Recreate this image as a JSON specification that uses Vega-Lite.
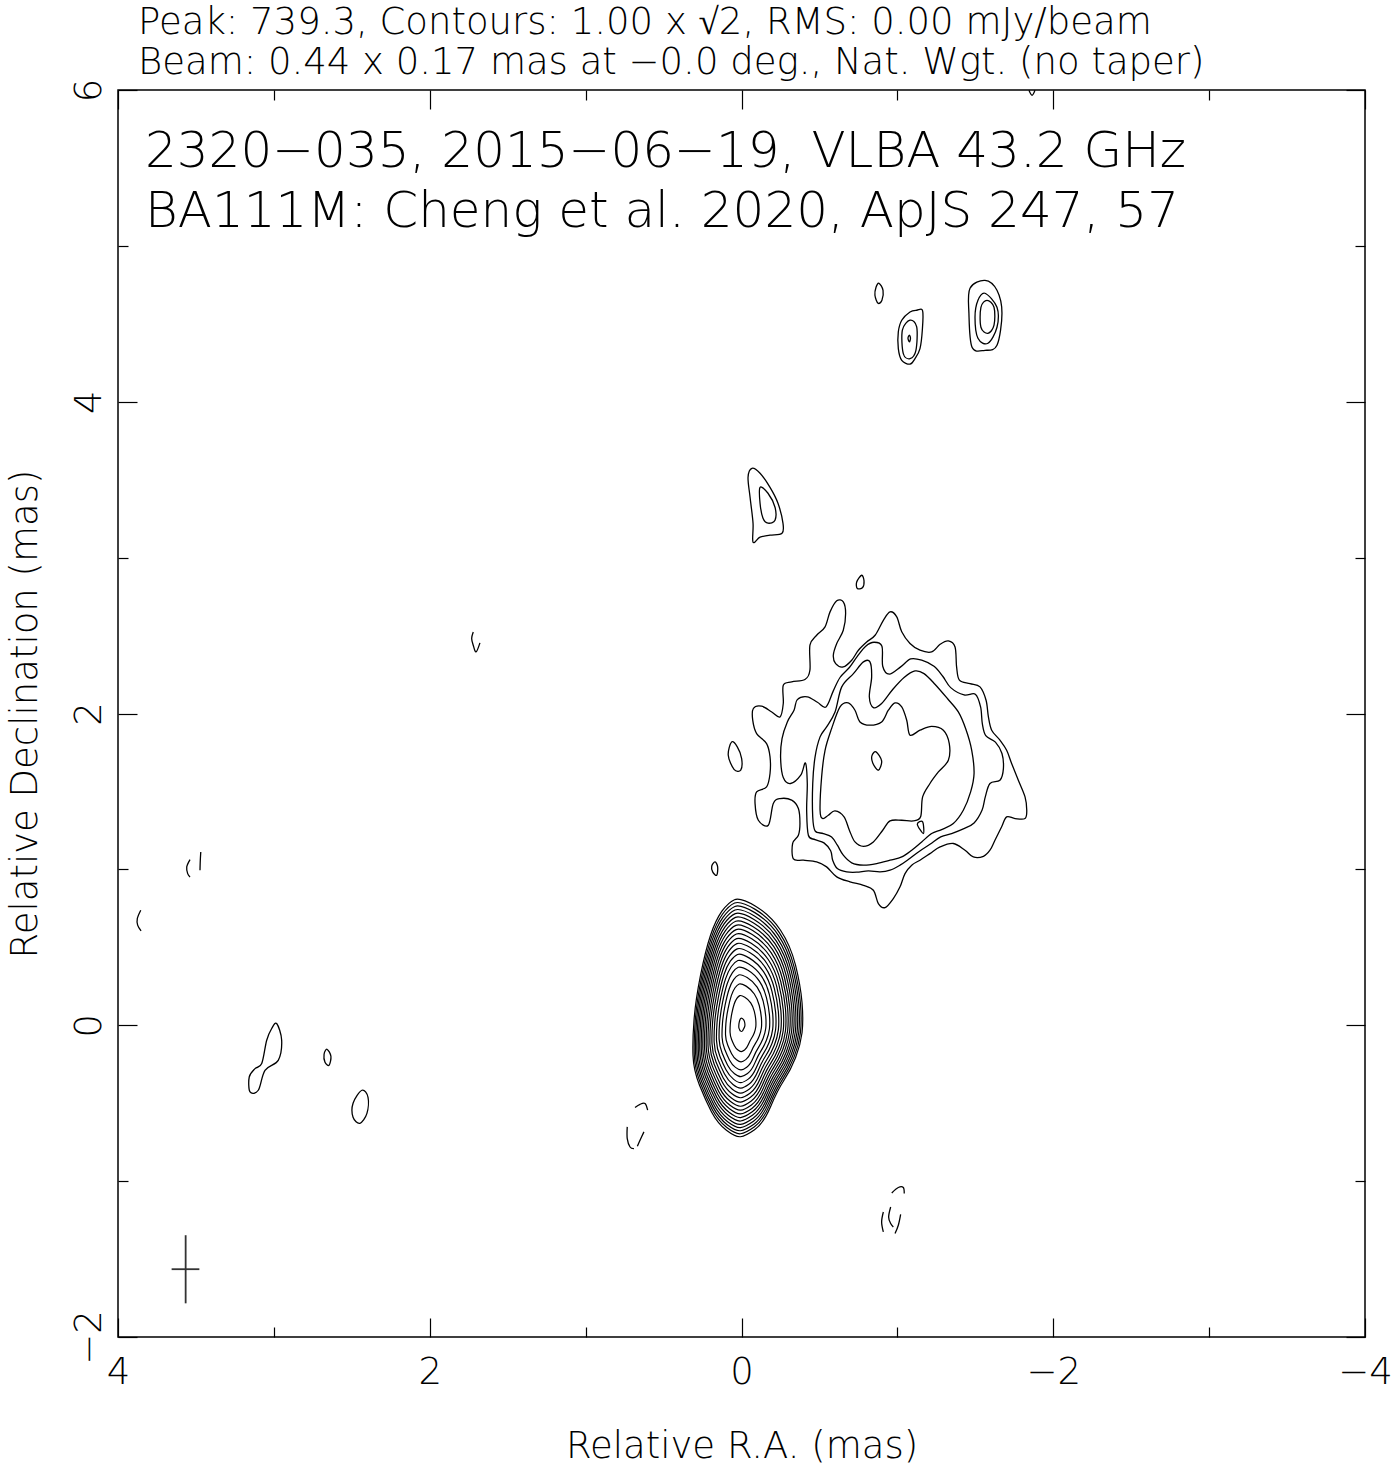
{
"$schema": "https://vega.github.io/schema/vega-lite/v6.json",
"width": 1247, "height": 1247,
"autosize": {"type": "none"},
"padding": {"left": 118, "top": 90, "right": 29, "bottom": 135},
"background": "white",
"title": {"text": ["Peak: 739.3, Contours: 1.00 x √2, RMS: 0.00 mJy/beam", "Beam: 0.44 x 0.17 mas at −0.0 deg., Nat. Wgt. (no taper)"], "anchor": "start", "frame": "group", "dx": 20, "offset": -33, "font": "DejaVu Sans", "fontSize": 37, "fontWeight": 200, "color": "black", "lineHeight": 40, "baseline": "alphabetic"},
"config": {
  "view": {"stroke": "black", "strokeWidth": 1.5},
  "axis": {"grid": false, "domain": false, "tickColor": "black", "tickWidth": 1.2, "labelFont": "DejaVu Sans", "labelFontSize": 37, "labelFontWeight": 200, "labelColor": "black", "titleFont": "DejaVu Sans", "titleFontSize": 37, "titleFontWeight": 200, "titleColor": "black", "labelFlush": false, "labelOverlap": false}
},
"datasets": {
"core": [
{"level":1,"x":0,"y":0},{"level":1.414,"x":0,"y":0},{"level":2,"x":0,"y":0},{"level":2.828,"x":0,"y":0},{"level":4,"x":0,"y":0},{"level":5.657,"x":0,"y":0},{"level":8,"x":0,"y":0},{"level":11.31,"x":0,"y":0},{"level":16,"x":0,"y":0},{"level":22.63,"x":0,"y":0},{"level":32,"x":0,"y":0},{"level":45.25,"x":0,"y":0},{"level":64,"x":0,"y":0},{"level":90.51,"x":0,"y":0},{"level":128,"x":0,"y":0},{"level":181.0,"x":0,"y":0},{"level":256,"x":0,"y":0},{"level":362.0,"x":0,"y":0},{"level":512,"x":0,"y":0},{"level":724.1,"x":0,"y":0}
],
"pos": [
{"g":"A","o":1,"x":-0.076,"y":2.032},{"g":"A","o":2,"x":-0.129,"y":2.047},{"g":"A","o":3,"x":-0.194,"y":2.010},{"g":"A","o":4,"x":-0.247,"y":1.978},{"g":"A","o":5,"x":-0.268,"y":2.064},{"g":"A","o":6,"x":-0.268,"y":2.181},{"g":"A","o":7,"x":-0.322,"y":2.203},{"g":"A","o":8,"x":-0.407,"y":2.218},{"g":"A","o":9,"x":-0.439,"y":2.278},{"g":"A","o":10,"x":-0.439,"y":2.438},
{"g":"A","o":11,"x":-0.482,"y":2.502},{"g":"A","o":12,"x":-0.536,"y":2.556},{"g":"A","o":13,"x":-0.568,"y":2.652},{"g":"A","o":14,"x":-0.611,"y":2.723},{"g":"A","o":15,"x":-0.653,"y":2.716},{"g":"A","o":16,"x":-0.668,"y":2.641},{"g":"A","o":17,"x":-0.653,"y":2.534},{"g":"A","o":18,"x":-0.611,"y":2.449},{"g":"A","o":19,"x":-0.589,"y":2.374},{"g":"A","o":20,"x":-0.604,"y":2.320},
{"g":"A","o":21,"x":-0.653,"y":2.299},{"g":"A","o":22,"x":-0.707,"y":2.342},{"g":"A","o":23,"x":-0.750,"y":2.406},{"g":"A","o":24,"x":-0.803,"y":2.459},{"g":"A","o":25,"x":-0.857,"y":2.502},{"g":"A","o":26,"x":-0.910,"y":2.598},{"g":"A","o":27,"x":-0.953,"y":2.652},{"g":"A","o":28,"x":-0.996,"y":2.620},{"g":"A","o":29,"x":-1.028,"y":2.524},{"g":"A","o":30,"x":-1.081,"y":2.449},
{"g":"A","o":31,"x":-1.145,"y":2.406},{"g":"A","o":32,"x":-1.220,"y":2.395},{"g":"A","o":33,"x":-1.274,"y":2.444},{"g":"A","o":34,"x":-1.327,"y":2.466},{"g":"A","o":35,"x":-1.370,"y":2.427},{"g":"A","o":36,"x":-1.380,"y":2.299},{"g":"A","o":37,"x":-1.398,"y":2.214},{"g":"A","o":38,"x":-1.466,"y":2.192},{"g":"A","o":39,"x":-1.530,"y":2.171},{"g":"A","o":40,"x":-1.569,"y":2.085},
{"g":"A","o":41,"x":-1.584,"y":1.978},{"g":"A","o":42,"x":-1.605,"y":1.893},{"g":"A","o":43,"x":-1.658,"y":1.829},{"g":"A","o":44,"x":-1.701,"y":1.764},{"g":"A","o":45,"x":-1.733,"y":1.679},{"g":"A","o":46,"x":-1.776,"y":1.572},{"g":"A","o":47,"x":-1.819,"y":1.465},{"g":"A","o":48,"x":-1.830,"y":1.379},{"g":"A","o":49,"x":-1.819,"y":1.326},{"g":"A","o":50,"x":-1.755,"y":1.326},
{"g":"A","o":51,"x":-1.701,"y":1.337},{"g":"A","o":52,"x":-1.669,"y":1.273},{"g":"A","o":53,"x":-1.626,"y":1.187},{"g":"A","o":54,"x":-1.594,"y":1.123},{"g":"A","o":55,"x":-1.552,"y":1.084},{"g":"A","o":56,"x":-1.487,"y":1.080},{"g":"A","o":57,"x":-1.434,"y":1.123},{"g":"A","o":58,"x":-1.359,"y":1.166},{"g":"A","o":59,"x":-1.274,"y":1.144},{"g":"A","o":60,"x":-1.209,"y":1.101},
{"g":"A","o":61,"x":-1.145,"y":1.059},{"g":"A","o":62,"x":-1.092,"y":1.027},{"g":"A","o":63,"x":-1.049,"y":0.973},{"g":"A","o":64,"x":-1.017,"y":0.888},{"g":"A","o":65,"x":-0.974,"y":0.813},{"g":"A","o":66,"x":-0.921,"y":0.755},{"g":"A","o":67,"x":-0.878,"y":0.781},{"g":"A","o":68,"x":-0.846,"y":0.866},{"g":"A","o":69,"x":-0.782,"y":0.898},{"g":"A","o":70,"x":-0.696,"y":0.920},
{"g":"A","o":71,"x":-0.611,"y":0.952},{"g":"A","o":72,"x":-0.546,"y":1.016},{"g":"A","o":73,"x":-0.482,"y":1.048},{"g":"A","o":74,"x":-0.397,"y":1.059},{"g":"A","o":75,"x":-0.333,"y":1.067},{"g":"A","o":76,"x":-0.328,"y":1.166},{"g":"A","o":77,"x":-0.365,"y":1.219},{"g":"A","o":78,"x":-0.375,"y":1.294},{"g":"A","o":79,"x":-0.365,"y":1.390},{"g":"A","o":80,"x":-0.322,"y":1.444},
{"g":"A","o":81,"x":-0.247,"y":1.454},{"g":"A","o":82,"x":-0.204,"y":1.422},{"g":"A","o":83,"x":-0.172,"y":1.283},{"g":"A","o":84,"x":-0.108,"y":1.315},{"g":"A","o":85,"x":-0.087,"y":1.422},{"g":"A","o":86,"x":-0.097,"y":1.497},{"g":"A","o":87,"x":-0.161,"y":1.529},{"g":"A","o":88,"x":-0.183,"y":1.615},{"g":"A","o":89,"x":-0.183,"y":1.722},{"g":"A","o":90,"x":-0.161,"y":1.807},
{"g":"A","o":91,"x":-0.097,"y":1.871},{"g":"A","o":92,"x":-0.072,"y":1.957},
{"g":"B","o":1,"x":-0.294,"y":1.946},{"g":"B","o":2,"x":-0.337,"y":2.021},{"g":"B","o":3,"x":-0.358,"y":2.089},{"g":"B","o":4,"x":-0.422,"y":2.107},{"g":"B","o":5,"x":-0.487,"y":2.072},{"g":"B","o":6,"x":-0.542,"y":2.042},{"g":"B","o":7,"x":-0.589,"y":2.145},{"g":"B","o":8,"x":-0.632,"y":2.231},{"g":"B","o":9,"x":-0.692,"y":2.295},{"g":"B","o":10,"x":-0.743,"y":2.367},
{"g":"B","o":11,"x":-0.797,"y":2.432},{"g":"B","o":12,"x":-0.850,"y":2.457},{"g":"B","o":13,"x":-0.901,"y":2.432},{"g":"B","o":14,"x":-0.906,"y":2.303},{"g":"B","o":15,"x":-0.948,"y":2.252},{"g":"B","o":16,"x":-1.021,"y":2.299},{"g":"B","o":17,"x":-1.085,"y":2.350},{"g":"B","o":18,"x":-1.156,"y":2.342},{"g":"B","o":19,"x":-1.235,"y":2.303},{"g":"B","o":20,"x":-1.291,"y":2.239},
{"g":"B","o":21,"x":-1.342,"y":2.166},{"g":"B","o":22,"x":-1.428,"y":2.119},{"g":"B","o":23,"x":-1.500,"y":2.124},{"g":"B","o":24,"x":-1.534,"y":2.042},{"g":"B","o":25,"x":-1.545,"y":1.935},{"g":"B","o":26,"x":-1.567,"y":1.858},{"g":"B","o":27,"x":-1.629,"y":1.816},{"g":"B","o":28,"x":-1.671,"y":1.743},{"g":"B","o":29,"x":-1.680,"y":1.645},{"g":"B","o":30,"x":-1.658,"y":1.572},
{"g":"B","o":31,"x":-1.594,"y":1.551},{"g":"B","o":32,"x":-1.564,"y":1.465},{"g":"B","o":33,"x":-1.543,"y":1.379},{"g":"B","o":34,"x":-1.492,"y":1.298},{"g":"B","o":35,"x":-1.423,"y":1.260},{"g":"B","o":36,"x":-1.348,"y":1.230},{"g":"B","o":37,"x":-1.278,"y":1.208},{"g":"B","o":38,"x":-1.209,"y":1.161},{"g":"B","o":39,"x":-1.135,"y":1.112},{"g":"B","o":40,"x":-1.070,"y":1.063},
{"g":"B","o":41,"x":-1.017,"y":1.027},{"g":"B","o":42,"x":-0.953,"y":0.995},{"g":"B","o":43,"x":-0.889,"y":0.984},{"g":"B","o":44,"x":-0.814,"y":0.990},{"g":"B","o":45,"x":-0.739,"y":0.982},{"g":"B","o":46,"x":-0.675,"y":0.984},{"g":"B","o":47,"x":-0.615,"y":1.005},{"g":"B","o":48,"x":-0.585,"y":1.059},{"g":"B","o":49,"x":-0.572,"y":1.119},{"g":"B","o":50,"x":-0.529,"y":1.170},
{"g":"B","o":51,"x":-0.472,"y":1.191},{"g":"B","o":52,"x":-0.429,"y":1.219},{"g":"B","o":53,"x":-0.418,"y":1.379},{"g":"B","o":54,"x":-0.422,"y":1.551},{"g":"B","o":55,"x":-0.410,"y":1.683},{"g":"B","o":56,"x":-0.380,"y":1.604},{"g":"B","o":57,"x":-0.315,"y":1.551},{"g":"B","o":58,"x":-0.268,"y":1.589},{"g":"B","o":59,"x":-0.251,"y":1.711},{"g":"B","o":60,"x":-0.260,"y":1.839},
{"g":"C","o":1,"x":-0.472,"y":1.722},{"g":"C","o":2,"x":-0.504,"y":1.850},{"g":"C","o":3,"x":-0.546,"y":1.914},{"g":"C","o":4,"x":-0.600,"y":2.010},{"g":"C","o":5,"x":-0.643,"y":2.171},{"g":"C","o":6,"x":-0.718,"y":2.256},{"g":"C","o":7,"x":-0.782,"y":2.331},{"g":"C","o":8,"x":-0.824,"y":2.331},{"g":"C","o":9,"x":-0.835,"y":2.235},{"g":"C","o":10,"x":-0.820,"y":2.107},
{"g":"C","o":11,"x":-0.846,"y":2.038},{"g":"C","o":12,"x":-0.899,"y":2.064},{"g":"C","o":13,"x":-0.970,"y":2.154},{"g":"C","o":14,"x":-1.043,"y":2.231},{"g":"C","o":15,"x":-1.113,"y":2.273},{"g":"C","o":16,"x":-1.171,"y":2.256},{"g":"C","o":17,"x":-1.241,"y":2.188},{"g":"C","o":18,"x":-1.321,"y":2.096},{"g":"C","o":19,"x":-1.391,"y":2.010},{"g":"C","o":20,"x":-1.440,"y":1.897},
{"g":"C","o":21,"x":-1.477,"y":1.764},{"g":"C","o":22,"x":-1.492,"y":1.615},{"g":"C","o":23,"x":-1.470,"y":1.497},{"g":"C","o":24,"x":-1.423,"y":1.379},{"g":"C","o":25,"x":-1.359,"y":1.294},{"g":"C","o":26,"x":-1.284,"y":1.255},{"g":"C","o":27,"x":-1.220,"y":1.230},{"g":"C","o":28,"x":-1.156,"y":1.176},{"g":"C","o":29,"x":-1.092,"y":1.123},{"g":"C","o":30,"x":-1.028,"y":1.080},
{"g":"C","o":31,"x":-0.953,"y":1.059},{"g":"C","o":32,"x":-0.867,"y":1.037},{"g":"C","o":33,"x":-0.782,"y":1.027},{"g":"C","o":34,"x":-0.707,"y":1.042},{"g":"C","o":35,"x":-0.653,"y":1.091},{"g":"C","o":36,"x":-0.615,"y":1.155},{"g":"C","o":37,"x":-0.578,"y":1.208},{"g":"C","o":38,"x":-0.525,"y":1.230},{"g":"C","o":39,"x":-0.472,"y":1.247},{"g":"C","o":40,"x":-0.457,"y":1.336},
{"g":"C","o":41,"x":-0.457,"y":1.551},
{"g":"D","o":1,"x":-0.504,"y":1.379},{"g":"D","o":2,"x":-0.514,"y":1.593},{"g":"D","o":3,"x":-0.536,"y":1.764},{"g":"D","o":4,"x":-0.578,"y":1.903},{"g":"D","o":5,"x":-0.632,"y":2.042},{"g":"D","o":6,"x":-0.685,"y":2.068},{"g":"D","o":7,"x":-0.728,"y":2.021},{"g":"D","o":8,"x":-0.760,"y":1.946},{"g":"D","o":9,"x":-0.824,"y":1.925},{"g":"D","o":10,"x":-0.899,"y":1.946},
{"g":"D","o":11,"x":-0.942,"y":2.021},{"g":"D","o":12,"x":-0.985,"y":2.068},{"g":"D","o":13,"x":-1.028,"y":2.042},{"g":"D","o":14,"x":-1.060,"y":1.957},{"g":"D","o":15,"x":-1.081,"y":1.861},{"g":"D","o":16,"x":-1.145,"y":1.893},{"g":"D","o":17,"x":-1.220,"y":1.918},{"g":"D","o":18,"x":-1.295,"y":1.893},{"g":"D","o":19,"x":-1.333,"y":1.807},{"g":"D","o":20,"x":-1.327,"y":1.700},
{"g":"D","o":21,"x":-1.263,"y":1.625},{"g":"D","o":22,"x":-1.209,"y":1.551},{"g":"D","o":23,"x":-1.162,"y":1.465},{"g":"D","o":24,"x":-1.149,"y":1.337},{"g":"D","o":25,"x":-1.102,"y":1.311},{"g":"D","o":26,"x":-1.028,"y":1.315},{"g":"D","o":27,"x":-0.953,"y":1.311},{"g":"D","o":28,"x":-0.906,"y":1.251},{"g":"D","o":29,"x":-0.846,"y":1.176},{"g":"D","o":30,"x":-0.782,"y":1.148},
{"g":"D","o":31,"x":-0.728,"y":1.176},{"g":"D","o":32,"x":-0.692,"y":1.251},{"g":"D","o":33,"x":-0.658,"y":1.337},{"g":"D","o":34,"x":-0.600,"y":1.375},{"g":"D","o":35,"x":-0.557,"y":1.347},{"g":"D","o":36,"x":-0.521,"y":1.326},
{"g":"E","o":1,"x":-0.863,"y":1.754},{"g":"E","o":2,"x":-0.899,"y":1.696},{"g":"E","o":3,"x":-0.878,"y":1.636},{"g":"E","o":4,"x":-0.842,"y":1.683},{"g":"E","o":5,"x":-0.837,"y":1.730},
{"g":"F","o":1,"x":-1.128,"y":1.290},{"g":"F","o":2,"x":-1.162,"y":1.305},{"g":"F","o":3,"x":-1.167,"y":1.230},
{"g":"G","o":1,"x":0.063,"y":1.818},{"g":"G","o":2,"x":0.027,"y":1.786},{"g":"G","o":3,"x":-0.001,"y":1.711},{"g":"G","o":4,"x":0.005,"y":1.636},{"g":"G","o":5,"x":0.048,"y":1.642},{"g":"G","o":6,"x":0.085,"y":1.732},
{"g":"H","o":1,"x":0.170,"y":1.048},{"g":"H","o":2,"x":0.153,"y":1.016},{"g":"H","o":3,"x":0.159,"y":0.962},{"g":"H","o":4,"x":0.185,"y":0.984},{"g":"H","o":5,"x":0.191,"y":1.020},
{"g":"I","o":1,"x":-0.771,"y":2.887},{"g":"I","o":2,"x":-0.786,"y":2.851},{"g":"I","o":3,"x":-0.777,"y":2.808},{"g":"I","o":4,"x":-0.743,"y":2.802},{"g":"I","o":5,"x":-0.739,"y":2.844},
{"g":"J","o":1,"x":-0.882,"y":4.760},{"g":"J","o":2,"x":-0.908,"y":4.715},{"g":"J","o":3,"x":-0.901,"y":4.651},{"g":"J","o":4,"x":-0.876,"y":4.632},{"g":"J","o":5,"x":-0.856,"y":4.683},{"g":"J","o":6,"x":-0.863,"y":4.735},
{"g":"K1","o":1,"x":-1.162,"y":4.583},{"g":"K1","o":2,"x":-1.160,"y":4.459},{"g":"K1","o":3,"x":-1.145,"y":4.341},{"g":"K1","o":4,"x":-1.113,"y":4.277},{"g":"K1","o":5,"x":-1.081,"y":4.241},{"g":"K1","o":6,"x":-1.028,"y":4.266},{"g":"K1","o":7,"x":-1.006,"y":4.341},{"g":"K1","o":8,"x":-1.006,"y":4.448},{"g":"K1","o":9,"x":-1.028,"y":4.523},{"g":"K1","o":10,"x":-1.081,"y":4.576},{"g":"K1","o":11,"x":-1.124,"y":4.587},
{"g":"K2","o":1,"x":-1.081,"y":4.523},{"g":"K2","o":2,"x":-1.124,"y":4.480},{"g":"K2","o":3,"x":-1.119,"y":4.330},{"g":"K2","o":4,"x":-1.081,"y":4.277},{"g":"K2","o":5,"x":-1.038,"y":4.309},{"g":"K2","o":6,"x":-1.032,"y":4.459},
{"g":"K3","o":1,"x":-1.077,"y":4.427},{"g":"K3","o":2,"x":-1.084,"y":4.407},{"g":"K3","o":3,"x":-1.077,"y":4.384},{"g":"K3","o":4,"x":-1.068,"y":4.407},
{"g":"L1","o":1,"x":-1.562,"y":4.779},{"g":"L1","o":2,"x":-1.639,"y":4.715},{"g":"L1","o":3,"x":-1.671,"y":4.568},{"g":"L1","o":4,"x":-1.639,"y":4.362},{"g":"L1","o":5,"x":-1.562,"y":4.330},{"g":"L1","o":6,"x":-1.479,"y":4.350},{"g":"L1","o":7,"x":-1.459,"y":4.568},{"g":"L1","o":8,"x":-1.466,"y":4.728},
{"g":"L2","o":1,"x":-1.562,"y":4.696},{"g":"L2","o":2,"x":-1.639,"y":4.606},{"g":"L2","o":3,"x":-1.639,"y":4.478},{"g":"L2","o":4,"x":-1.581,"y":4.375},{"g":"L2","o":5,"x":-1.517,"y":4.407},{"g":"L2","o":6,"x":-1.498,"y":4.542},{"g":"L2","o":7,"x":-1.517,"y":4.651},
{"g":"L3","o":1,"x":-1.575,"y":4.651},{"g":"L3","o":2,"x":-1.620,"y":4.606},{"g":"L3","o":3,"x":-1.620,"y":4.491},{"g":"L3","o":4,"x":-1.581,"y":4.439},{"g":"L3","o":5,"x":-1.536,"y":4.478},{"g":"L3","o":6,"x":-1.536,"y":4.606},
{"g":"M1","o":1,"x":-0.067,"y":3.573},{"g":"M1","o":2,"x":-0.119,"y":3.541},{"g":"M1","o":3,"x":-0.183,"y":3.451},{"g":"M1","o":4,"x":-0.234,"y":3.349},{"g":"M1","o":5,"x":-0.266,"y":3.221},{"g":"M1","o":6,"x":-0.260,"y":3.156},{"g":"M1","o":7,"x":-0.183,"y":3.144},{"g":"M1","o":8,"x":-0.119,"y":3.131},{"g":"M1","o":9,"x":-0.074,"y":3.099},{"g":"M1","o":10,"x":-0.074,"y":3.221},{"g":"M1","o":11,"x":-0.055,"y":3.387},{"g":"M1","o":12,"x":-0.042,"y":3.516},
{"g":"M2","o":1,"x":-0.119,"y":3.451},{"g":"M2","o":2,"x":-0.170,"y":3.413},{"g":"M2","o":3,"x":-0.215,"y":3.323},{"g":"M2","o":4,"x":-0.215,"y":3.240},{"g":"M2","o":5,"x":-0.170,"y":3.221},{"g":"M2","o":6,"x":-0.138,"y":3.253},{"g":"M2","o":7,"x":-0.119,"y":3.349},
{"g":"N","o":1,"x":2.982,"y":0.011},{"g":"N","o":2,"x":2.950,"y":-0.096},{"g":"N","o":3,"x":2.972,"y":-0.225},{"g":"N","o":4,"x":3.057,"y":-0.289},{"g":"N","o":5,"x":3.100,"y":-0.417},{"g":"N","o":6,"x":3.153,"y":-0.428},{"g":"N","o":7,"x":3.158,"y":-0.332},{"g":"N","o":8,"x":3.121,"y":-0.278},{"g":"N","o":9,"x":3.078,"y":-0.246},{"g":"N","o":10,"x":3.046,"y":-0.096},{"g":"N","o":11,"x":3.014,"y":-0.021},
{"g":"P","o":1,"x":2.659,"y":-0.154},{"g":"P","o":2,"x":2.634,"y":-0.199},{"g":"P","o":3,"x":2.646,"y":-0.257},{"g":"P","o":4,"x":2.672,"y":-0.237},{"g":"P","o":5,"x":2.678,"y":-0.186},
{"g":"Q","o":1,"x":2.435,"y":-0.417},{"g":"Q","o":2,"x":2.396,"y":-0.462},{"g":"Q","o":3,"x":2.403,"y":-0.565},{"g":"Q","o":4,"x":2.448,"y":-0.629},{"g":"Q","o":5,"x":2.492,"y":-0.590},{"g":"Q","o":6,"x":2.492,"y":-0.500}
],
"neg": [
{"g":"a1","o":1,"x":3.538,"y":1.063},{"g":"a1","o":2,"x":3.559,"y":1.016},{"g":"a1","o":3,"x":3.553,"y":0.973},{"g":"a1","o":4,"x":3.538,"y":0.951},
{"g":"a2","o":1,"x":3.469,"y":1.112},{"g":"a2","o":2,"x":3.472,"y":1.058},{"g":"a2","o":3,"x":3.474,"y":0.994},
{"g":"a3","o":1,"x":3.854,"y":0.738},{"g":"a3","o":2,"x":3.876,"y":0.685},{"g":"a3","o":3,"x":3.874,"y":0.642},{"g":"a3","o":4,"x":3.852,"y":0.605},
{"g":"b1","o":1,"x":0.683,"y":-0.528},{"g":"b1","o":2,"x":0.651,"y":-0.507},{"g":"b1","o":3,"x":0.619,"y":-0.502},{"g":"b1","o":4,"x":0.602,"y":-0.545},
{"g":"b2","o":1,"x":0.733,"y":-0.652},{"g":"b2","o":2,"x":0.733,"y":-0.727},{"g":"b2","o":3,"x":0.715,"y":-0.781},{"g":"b2","o":4,"x":0.690,"y":-0.791},
{"g":"b3","o":1,"x":0.626,"y":-0.684},{"g":"b3","o":2,"x":0.651,"y":-0.738},{"g":"b3","o":3,"x":0.668,"y":-0.776},
{"g":"c1","o":1,"x":-0.964,"y":-1.076},{"g":"c1","o":2,"x":-1.006,"y":-1.041},{"g":"c1","o":3,"x":-1.038,"y":-1.041},{"g":"c1","o":4,"x":-1.044,"y":-1.080},
{"g":"c2","o":1,"x":-0.910,"y":-1.198},{"g":"c2","o":2,"x":-0.899,"y":-1.262},{"g":"c2","o":3,"x":-0.910,"y":-1.326},
{"g":"c3","o":1,"x":-0.957,"y":-1.166},{"g":"c3","o":2,"x":-0.944,"y":-1.230},{"g":"c3","o":3,"x":-0.957,"y":-1.272},{"g":"c3","o":4,"x":-0.974,"y":-1.294},
{"g":"c4","o":1,"x":-1.021,"y":-1.213},{"g":"c4","o":2,"x":-1.006,"y":-1.283},{"g":"c4","o":3,"x":-0.985,"y":-1.336},
{"g":"d1","o":1,"x":1.721,"y":2.523},{"g":"d1","o":2,"x":1.731,"y":2.481},{"g":"d1","o":3,"x":1.721,"y":2.438},{"g":"d1","o":4,"x":1.703,"y":2.395},{"g":"d1","o":5,"x":1.678,"y":2.453},
{"g":"v","o":1,"x":-1.844,"y":5.998},{"g":"v","o":2,"x":-1.864,"y":5.966},{"g":"v","o":3,"x":-1.883,"y":5.998}
],
"beam": [
{"x":3.566,"y":-1.347,"x2":3.566,"y2":-1.784},
{"x":3.656,"y":-1.565,"x2":3.478,"y2":-1.565}
],
"labels": [
{"t":"2320−035, 2015−06−19, VLBA 43.2 GHz","x":3.827,"y":5.504},
{"t":"BA111M: Cheng et al. 2020, ApJS 247, 57","x":3.827,"y":5.119}
]
},
"layer": [
{
 "data": {"name": "core"},
 "mark": {"type": "point", "shape": "M -0.055 -0.981 Q -0.008 -1 0.110 -0.930 Q 0.227 -0.859 0.305 -0.742 Q 0.383 -0.625 0.422 -0.469 Q 0.461 -0.313 0.473 -0.176 Q 0.484 -0.039 0.473 0.059 Q 0.461 0.156 0.422 0.254 Q 0.383 0.352 0.332 0.430 Q 0.281 0.508 0.227 0.637 Q 0.172 0.766 0.102 0.817 Q 0.031 0.867 -0.008 0.871 Q -0.047 0.875 -0.118 0.821 Q -0.188 0.766 -0.235 0.676 Q -0.281 0.586 -0.328 0.469 Q -0.375 0.352 -0.379 0.235 Q -0.383 0.117 -0.371 -0.039 Q -0.359 -0.195 -0.320 -0.391 Q -0.281 -0.586 -0.242 -0.703 Q -0.203 -0.820 -0.153 -0.891 Q -0.102 -0.961 -0.055 -0.981 Z", "filled": false, "color": "black", "strokeWidth": 1.2, "opacity": 1},
 "encoding": {
  "x": {"field": "x", "type": "quantitative", "scale": {"domain": [4, -4], "nice": false, "zero": false}, "axis": {"orient": "bottom", "values": [4, 2, 0, -2, -4], "format": "d", "ticks": false, "labelPadding": 17, "title": "Relative R.A. (mas)", "titlePadding": 38}},
  "y": {"field": "y", "type": "quantitative", "scale": {"domain": [-2, 6], "nice": false, "zero": false}, "axis": {"orient": "left", "values": [-2, 0, 2, 4, 6], "format": "d", "ticks": false, "labelAngle": -90, "labelAlign": "center", "labelBaseline": "alphabetic", "labelPadding": 18, "title": "Relative Declination (mas)", "titlePadding": 26}},
  "size": {"field": "level", "type": "quantitative", "scale": {"type": "log", "domain": [1, 739.3], "range": [65536, 0]}, "legend": null}
 }
},
{
 "data": {"name": "pos"},
 "mark": {"type": "line", "interpolate": "cardinal-closed", "color": "black", "strokeWidth": 1.3},
 "encoding": {
  "x": {"field": "x", "type": "quantitative", "scale": {"domain": [4, -4], "nice": false, "zero": false}, "axis": {"orient": "bottom", "values": [4, 2, 0, -2, -4], "tickSize": -19, "labels": false, "title": null}},
  "y": {"field": "y", "type": "quantitative", "scale": {"domain": [-2, 6], "nice": false, "zero": false}, "axis": {"orient": "left", "values": [-2, 0, 2, 4, 6], "tickSize": -19, "labels": false, "title": null}},
  "detail": {"field": "g"},
  "order": {"field": "o", "type": "quantitative"}
 }
},
{
 "data": {"name": "neg"},
 "mark": {"type": "line", "interpolate": "cardinal", "color": "black", "strokeWidth": 1.3},
 "encoding": {
  "x": {"field": "x", "type": "quantitative", "scale": {"domain": [4, -4], "nice": false, "zero": false}, "axis": {"orient": "bottom", "values": [3, 1, -1, -3], "tickSize": -10, "labels": false, "title": null}},
  "y": {"field": "y", "type": "quantitative", "scale": {"domain": [-2, 6], "nice": false, "zero": false}, "axis": {"orient": "left", "values": [-1, 1, 3, 5], "tickSize": -10, "labels": false, "title": null}},
  "detail": {"field": "g"},
  "order": {"field": "o", "type": "quantitative"}
 }
},
{
 "data": {"name": "beam"},
 "mark": {"type": "rule", "color": "#333333", "strokeWidth": 1.8},
 "encoding": {
  "x": {"field": "x", "type": "quantitative", "scale": {"domain": [4, -4], "nice": false, "zero": false}, "axis": {"orient": "top", "values": [4, 2, 0, -2, -4], "tickSize": -19, "labels": false, "title": null}},
  "y": {"field": "y", "type": "quantitative", "scale": {"domain": [-2, 6], "nice": false, "zero": false}, "axis": {"orient": "right", "values": [-2, 0, 2, 4, 6], "tickSize": -19, "labels": false, "title": null}},
  "x2": {"field": "x2"},
  "y2": {"field": "y2"}
 }
},
{
 "data": {"name": "labels"},
 "mark": {"type": "text", "align": "left", "baseline": "alphabetic", "font": "DejaVu Sans", "fontSize": 50, "fontWeight": 200, "color": "black"},
 "encoding": {
  "x": {"field": "x", "type": "quantitative", "scale": {"domain": [4, -4], "nice": false, "zero": false}, "axis": {"orient": "top", "values": [3, 1, -1, -3], "tickSize": -10, "labels": false, "title": null}},
  "y": {"field": "y", "type": "quantitative", "scale": {"domain": [-2, 6], "nice": false, "zero": false}, "axis": {"orient": "right", "values": [-1, 1, 3, 5], "tickSize": -10, "labels": false, "title": null}},
  "text": {"field": "t"}
 }
}
],
"resolve": {"axis": {"x": "independent", "y": "independent"}}
}
